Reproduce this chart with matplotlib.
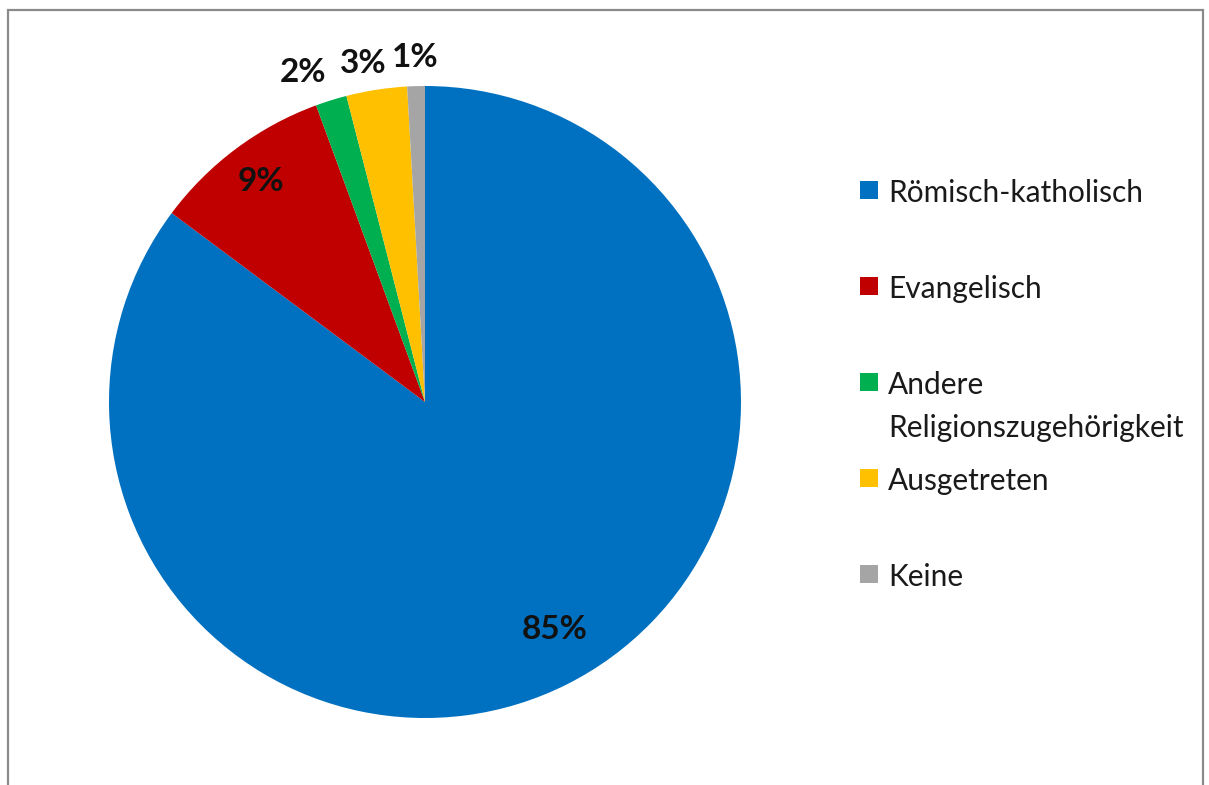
import numpy as np
import matplotlib
matplotlib.use("Agg")
import matplotlib.pyplot as plt
from matplotlib.patches import Rectangle

categories = ["Römisch-katholisch", "Evangelisch", "Andere\nReligionszugehörigkeit", "Ausgetreten", "Keine"]
values = [85.2, 9.2, 1.6, 3.1, 0.9]
pct_labels = ["85%", "9%", "2%", "3%", "1%"]
colors = ["#0070C0", "#C00000", "#00B050", "#FFC000", "#A5A5A5"]
label_radius = [0.83, 0.87, 1.11, 1.09, 1.09]
label_angle_shift = [3, 0, 3, 1.5, 0]

W, H = 1209, 785
fig = plt.figure(figsize=(W / 100, H / 100), dpi=100)
fig.patch.set_facecolor("white")

# chart border (left/top/right visible)
fig.add_artist(Rectangle((8 / W, -0.05), (1203 - 8) / W, 1.05 - 10 / H,
                         transform=fig.transFigure, fill=False,
                         edgecolor="#8a8a8a", lw=1.6))

cx, cy, R = 425, 402, 316
ax = fig.add_axes([(cx - R) / W, (H - cy - R) / H, 2 * R / W, 2 * R / H])
wedges, _ = ax.pie(values, colors=colors, startangle=90, counterclock=False,
                   radius=1.0, wedgeprops=dict(linewidth=0))
ax.set_xlim(-1, 1)
ax.set_ylim(-1, 1)
ax.set_aspect("equal")
ax.axis("off")

for w, lab, r, sh in zip(wedges, pct_labels, label_radius, label_angle_shift):
    mid = np.deg2rad((w.theta1 + w.theta2) / 2 + sh)
    ax.text(r * np.cos(mid), r * np.sin(mid), lab, ha="center", va="center",
            fontsize=24, fontweight="bold", family="Lato", color="#111111",
            clip_on=False)

# legend (Excel-style fixed slots)
slot_top = 190
slot_step = 96
fs = 21.5
for i, (lab, c) in enumerate(zip(categories, colors)):
    ycen = slot_top + i * slot_step
    fig.add_artist(Rectangle((860 / W, 1 - (ycen + 9) / H), 18 / W, 18 / H,
                             transform=fig.transFigure, facecolor=c,
                             edgecolor="none"))
    fig.text(888 / W, 1 - (ycen - 11) / H, lab, ha="left", va="top",
             fontsize=fs, family="Lato", color="#1a1a1a", linespacing=1.67)

fig.savefig("out.png", dpi=100, facecolor="white")
